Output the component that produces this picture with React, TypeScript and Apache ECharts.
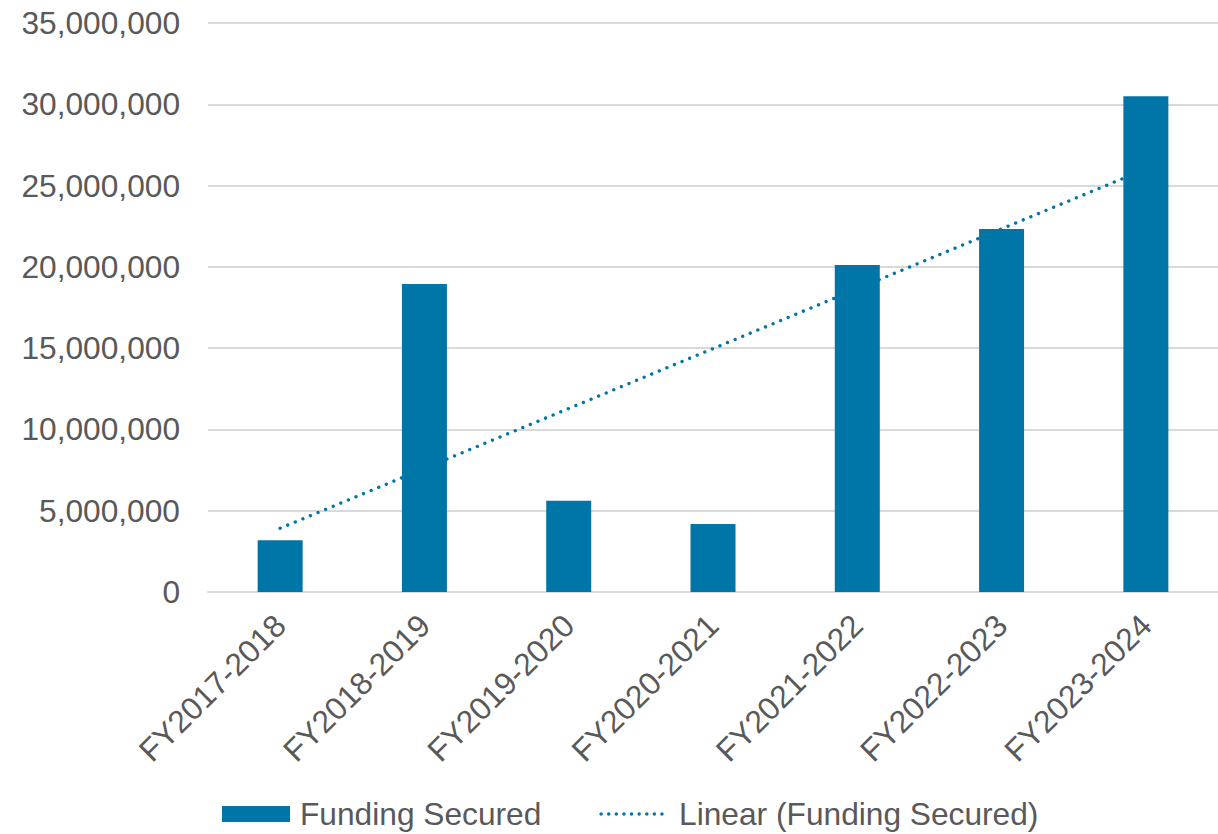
import React, { useEffect, useRef } from "react";
import * as echarts from "echarts";

const categories = [
  "FY2017-2018",
  "FY2018-2019",
  "FY2019-2020",
  "FY2020-2021",
  "FY2021-2022",
  "FY2022-2023",
  "FY2023-2024",
];
const fundingSecured = [3180000, 18950000, 5620000, 4180000, 20110000, 22330000, 30500000];
// Linear trendline endpoints (first and last category)
const trendIndex = [0, 6];
const trendValues = [3920000, 26020000];
const yTicks = { min: 0, max: 35000000, interval: 5000000 };

const BLUE = "#0076A8";
const TEXT = "#595959";
const FONT = "Liberation Sans, Arial, sans-serif";
const FS = 31.7;

export default function App() {
  const ref = useRef<HTMLDivElement>(null);
  useEffect(() => {
    if (!ref.current) return;
    const chart = echarts.init(ref.current, null, { renderer: "svg" });
    chart.setOption({
      animation: false,
      textStyle: { fontFamily: FONT },
      grid: { left: 208, right: 0, top: 23, bottom: 242, outerBoundsMode: "none" },
      legend: {
        left: 222,
        top: 798,
        padding: 0,
        itemWidth: 68,
        itemHeight: 16,
        itemGap: 58,
        textStyle: { fontSize: FS, color: TEXT, fontFamily: FONT, padding: [0, 0, 0, 5] },
        data: [
          { name: "Funding Secured", icon: "rect" },
          {
            name: "Linear (Funding Secured)",
            itemStyle: { opacity: 0 },
            lineStyle: { color: BLUE, width: 3.5, type: [0.01, 7.6], cap: "round" },
          },
        ],
      },
      xAxis: {
        type: "category",
        data: categories,
        axisLine: { show: true, lineStyle: { color: "#D9D9D9", width: 2 } },
        axisTick: { show: false },
        axisLabel: {
          rotate: 45,
          fontSize: FS,
          color: TEXT,
          fontFamily: FONT,
          margin: 28,
          interval: 0,
        },
      },
      yAxis: {
        type: "value",
        min: yTicks.min,
        max: yTicks.max,
        interval: yTicks.interval,
        axisLine: { show: false },
        axisTick: { show: false },
        splitLine: { lineStyle: { color: "#D9D9D9", width: 2 } },
        axisLabel: {
          fontSize: FS,
          color: TEXT,
          fontFamily: FONT,
          margin: 28,
          formatter: (v: number) => v.toLocaleString("en-US"),
        },
      },
      series: [
        {
          name: "Funding Secured",
          type: "bar",
          data: fundingSecured,
          barWidth: 45,
          itemStyle: { color: BLUE },
          z: 3,
        },
        {
          name: "Linear (Funding Secured)",
          type: "line",
          data: trendIndex.map((i, k) => [i, trendValues[k]]),
          symbol: "none",
          z: 2,
          lineStyle: { color: BLUE, width: 3.4, type: [0.01, 8.2], cap: "round" },
          itemStyle: { color: BLUE },
        },
      ],
    });
    return () => chart.dispose();
  }, []);
  return (
    <div
      ref={ref}
      style={{ position: "absolute", left: 0, top: 0, width: 1218, height: 834 }}
    />
  );
}
